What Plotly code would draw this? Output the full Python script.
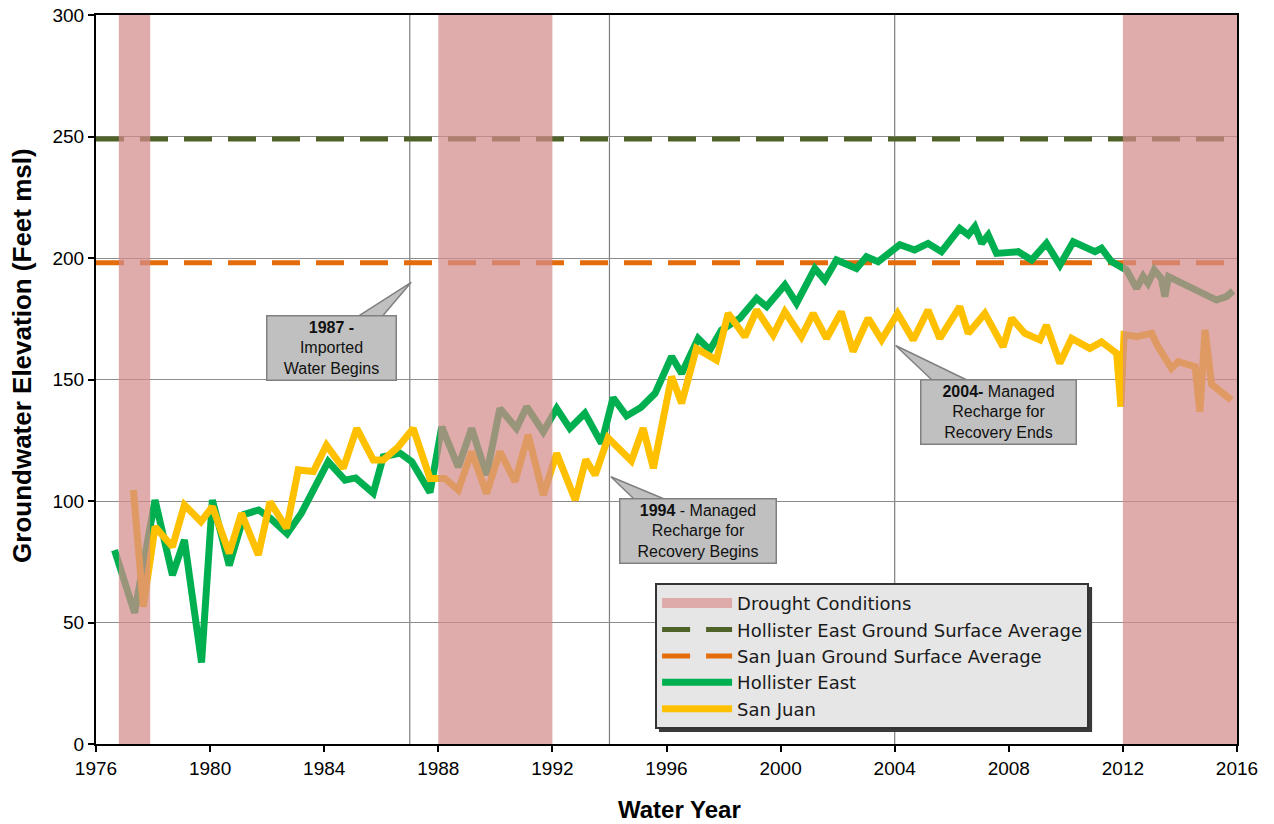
import plotly.graph_objects as go

# ---------------- data ----------------
hollister_years = [1976.65, 1977.35, 1978.07, 1978.68, 1979.1, 1979.7, 1980.08, 1980.67, 1981.2, 1981.7,
                   1982.1, 1982.7, 1983.2, 1983.7, 1984.14, 1984.73, 1985.1, 1985.72, 1986.07, 1986.66,
                   1987.07, 1987.71, 1988.12, 1988.7, 1989.17, 1989.69, 1990.16, 1990.74, 1991.1, 1991.68,
                   1992.15, 1992.61, 1993.14, 1993.72, 1994.13, 1994.6, 1995.1, 1995.6, 1996.18, 1996.53,
                   1997.11, 1997.52, 1997.93, 1998.57, 1999.16, 1999.51, 2000.15, 2000.56, 2001.2, 2001.55,
                   2001.96, 2002.66, 2003.01, 2003.42, 2004.18, 2004.7, 2005.17, 2005.64, 2006.28, 2006.58,
                   2006.81, 2007.05, 2007.28, 2007.57, 2008.33, 2008.8, 2009.32, 2009.79, 2010.26, 2011.02,
                   2011.25, 2011.6, 2012.13, 2012.48, 2012.71, 2012.88, 2013.1, 2013.35, 2013.47, 2013.6,
                   2014.34, 2015.28, 2015.63, 2015.86]
hollister_vals = [79.8, 54, 100.4, 69.5, 84, 33.5, 100.4, 73.5, 94.5, 96.3,
                  93, 86.5, 95, 106, 116.2, 108.6, 109.5, 103.2, 118.2, 119.7,
                  116.2, 103.5, 130.5, 114, 129.9, 110.7, 138.1, 129.9, 138.8, 128.5,
                  138.1, 129.9, 136.1, 123.7, 142.5, 135, 138.5, 144.3, 159.5, 152.5,
                  166.9, 162.1, 170.4, 175.2, 183.4, 180, 188.9, 181.4, 195.7, 190.9,
                  199.2, 195.7, 200.5, 198.5, 205.5, 203.3, 206, 202.6, 212.2, 209.5,
                  212.9, 206, 209.5, 201.9, 202.6, 199.2, 206, 197.1, 206.7, 202.6,
                  204, 198.5, 195, 187.5, 192.5, 189.6, 195, 191.6, 184.1, 192.3,
                  188.2, 182.7, 184.1, 186.5]

sanjuan_years = [1977.31, 1977.66, 1978.07, 1978.68, 1979.1, 1979.68, 1980.08, 1980.67, 1981.1, 1981.69,
                 1982.1, 1982.68, 1983.09, 1983.62, 1984.08, 1984.67, 1985.14, 1985.72, 1986.07, 1986.6,
                 1987.12, 1987.71, 1988.23, 1988.7, 1989.17, 1989.69, 1990.16, 1990.69, 1991.15, 1991.68,
                 1992.15, 1992.8, 1993.17, 1993.5, 1993.95, 1994.77, 1995.18, 1995.54, 1996.18, 1996.53,
                 1997.05, 1997.75, 1998.16, 1998.75, 1999.16, 1999.74, 2000.15, 2000.73, 2001.14, 2001.61,
                 2002.13, 2002.54, 2003.07, 2003.54, 2004.1, 2004.65, 2005.17, 2005.58, 2006.28, 2006.58,
                 2007.16, 2007.8, 2008.1, 2008.56, 2009.09, 2009.32, 2009.79, 2010.2, 2010.84, 2011.25,
                 2011.78, 2011.93, 2012.04, 2012.48, 2013.01, 2013.2, 2013.7, 2013.94, 2014.53, 2014.7,
                 2014.88, 2015.11, 2015.8]
sanjuan_vals = [104.5, 56.5, 89.4, 81.2, 98.4, 91.5, 97.7, 78.5, 94.9, 77.8,
                99.7, 88.8, 112.8, 112.1, 123, 113.5, 129.9, 116.9, 116.9, 122.3,
                129.9, 109.3, 109.3, 104.5, 120.3, 103.1, 120.3, 108, 127.2, 102.5,
                119.6, 100.4, 117, 110.7, 126, 116.5, 130, 113.5, 151.2, 140.2,
                162.8, 158, 177.2, 167.6, 178.6, 168.3, 177.9, 167.6, 177.2, 166.9,
                177.9, 161.5, 175.2, 166.3, 177.2, 166.3, 178.6, 166.9, 180, 169,
                177.2, 163.5, 175.2, 169, 166.3, 172.4, 156.7, 166.9, 162.8, 165.5,
                160.8, 138.8, 168.5, 167.6, 169, 164.2, 154.6, 157.3, 155.3, 136.8,
                170.4, 148, 141.6]

hollister_surface_avg = 249
sanjuan_surface_avg = 198
x_range = [1976, 2016]

drought_start = [1976.8, 1988, 2012]
drought_end = [1977.9, 1992, 2016]

event_years = [1987, 1994, 2004]
event_labels = ["<b>1987 -</b><br>Imported<br>Water Begins",
                "<b>1994</b> - Managed<br>Recharge for<br>Recovery Begins",
                "<b>2004-</b> Managed<br>Recharge for<br>Recovery Ends"]

x_ticks = list(range(1976, 2017, 4))
y_ticks = list(range(0, 301, 50))

# ---------------- styles ----------------
GREEN = "#00B050"
YELLOW = "#FFC000"
OLIVE = "#4F6228"
ORANGE = "#E46C0A"
DROUGHT = "rgba(210,138,138,0.72)"
DROUGHT_SOLID = "#DFAAAA"
BOXGRAY = "#C0C0C0"
BOXLINE = "#808080"
AX_FONT = "Liberation Sans, Arial, sans-serif"

fig = go.Figure()

fig.add_trace(go.Scatter(x=[None], y=[None], mode="lines",
                         line=dict(color=DROUGHT_SOLID, width=20),
                         name="Drought Conditions"))
fig.add_trace(go.Scatter(x=x_range, y=[hollister_surface_avg] * 2, mode="lines",
                         line=dict(color=OLIVE, width=5, dash="28px,16px"),
                         name="Hollister East Ground Surface Average"))
fig.add_trace(go.Scatter(x=x_range, y=[sanjuan_surface_avg] * 2, mode="lines",
                         line=dict(color=ORANGE, width=5, dash="28px,16px"),
                         name="San Juan Ground Surface Average"))
fig.add_trace(go.Scatter(x=hollister_years, y=hollister_vals, mode="lines",
                         line=dict(color=GREEN, width=7), name="Hollister East"))
fig.add_trace(go.Scatter(x=sanjuan_years, y=sanjuan_vals, mode="lines",
                         line=dict(color=YELLOW, width=7), name="San Juan"))

shapes = []
# event vertical lines
for yr in event_years:
    shapes.append(dict(type="line", xref="x", yref="paper", x0=yr, x1=yr, y0=0, y1=1,
                       line=dict(color="#7F7F7F", width=1.2), layer="below"))
# drought bands
for s, e in zip(drought_start, drought_end):
    shapes.append(dict(type="rect", xref="x", yref="paper", x0=s, x1=e, y0=0, y1=1,
                       fillcolor=DROUGHT, line=dict(width=0), layer="above"))

# callouts: (tip, base-left, base-right, box centre, box width)
callouts = [
    ((event_years[0] + 0.05, 190), (1984.65, 172), (1985.75, 172), (1984.25, 163), 124),
    ((event_years[1] + 0.05, 110), (1995.2, 97), (1996.7, 97), (1997.1, 87.5), 151),
    ((event_years[2] + 0.03, 164), (2005.65, 146), (2007.2, 146), (2007.65, 136.5), 150),
]
annotations = []
for (tip, bl, br, ctr, w), label in zip(callouts, event_labels):
    path = f"M {bl[0]},{bl[1]} L {tip[0]},{tip[1]} L {br[0]},{br[1]} Z"
    shapes.append(dict(type="path", xref="x", yref="y", path=path, fillcolor=BOXGRAY,
                       line=dict(color=BOXLINE, width=1.5), layer="above"))
    annotations.append(dict(x=ctr[0], y=ctr[1], xref="x", yref="y", text=label, showarrow=False,
                            font=dict(family=AX_FONT, size=16, color="#111111"),
                            bgcolor=BOXGRAY, bordercolor=BOXLINE, borderwidth=1.5, borderpad=2,
                            width=w, align="center"))

# axis titles
annotations.append(dict(x=-0.0649, y=0.5336, xref="paper", yref="paper", textangle=-90,
                        xanchor="center", yanchor="middle",
                        text="<b>Groundwater Elevation (Feet msl)</b>", showarrow=False,
                        font=dict(family=AX_FONT, size=26, color="black")))
annotations.append(dict(x=0.511, y=-0.0905, xref="paper", yref="paper",
                        xanchor="center", yanchor="middle",
                        text="<b>Water Year</b>", showarrow=False,
                        font=dict(family=AX_FONT, size=24, color="black")))

# legend shadow
shapes.append(dict(type="rect", xref="paper", yref="paper", x0=0.4934, x1=0.873, y0=0.0165, y1=0.2154,
                   fillcolor="#3A3A3A", line=dict(width=0), layer="above"))

fig.update_layout(
    width=1274, height=824,
    margin=dict(l=96, r=37, t=15, b=80),
    paper_bgcolor="white", plot_bgcolor="white",
    shapes=shapes, annotations=annotations,
    showlegend=True,
    legend=dict(x=0.49, y=0.221, xanchor="left", yanchor="top",
                bgcolor="#E6E6E6", bordercolor="#333333", borderwidth=2,
                font=dict(family="DejaVu Sans, sans-serif", size=18, color="#1A1A1A"),
                traceorder="normal", itemwidth=70, tracegroupgap=0),
    xaxis=dict(range=x_range, tickmode="array", tickvals=x_ticks, automargin=False,
               ticks="outside", ticklen=6, tickwidth=2, tickcolor="black",
               showgrid=False, zeroline=False, ticklabeloverflow="allow",
               showline=True, linecolor="black", linewidth=2, mirror=True,
               tickfont=dict(family=AX_FONT, size=19, color="black")),
    yaxis=dict(range=[0, 300], tickmode="array", tickvals=y_ticks, automargin=False,
               ticks="outside", ticklen=6, tickwidth=2, tickcolor="black",
               showgrid=True, gridcolor="#8C8C8C", gridwidth=1, zeroline=False,
               ticklabeloverflow="allow",
               showline=True, linecolor="black", linewidth=2, mirror=True,
               tickfont=dict(family=AX_FONT, size=19, color="black")),
)

fig.write_html("out.html", config={"displayModeBar": False},
               post_script="document.body.style.margin='0px';")
